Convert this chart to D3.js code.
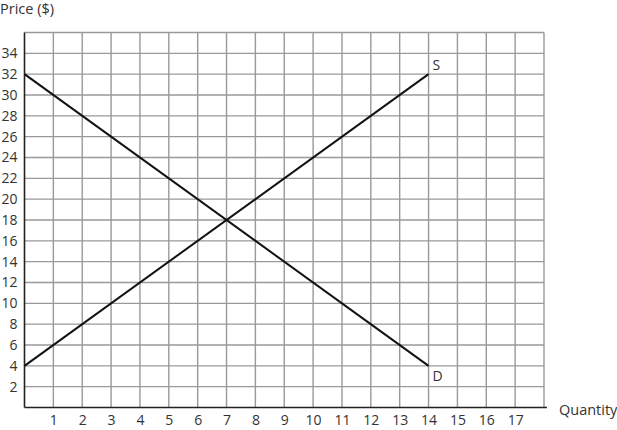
<!DOCTYPE html>
<html><head><meta charset="utf-8">
<script src="https://cdn.jsdelivr.net/npm/d3@7"></script>
<style>body{margin:0;background:#fff}svg{display:block}text{font-family:"Open Sans",Lato,sans-serif;fill:#333}</style>
</head><body><svg id="c" width="617" height="430"></svg>
<script>
const xTicks = [1,2,3,4,5,6,7,8,9,10,11,12,13,14,15,16,17];
const yTicks = [2,4,6,8,10,12,14,16,18,20,22,24,26,28,30,32,34];
const demandQ = [0, 14];
const demandP = [32, 4];
const supplyQ = [0, 14];
const supplyP = [4, 32];
const xLabel = "Quantity";
const yLabel = "Price ($)";

const svg = d3.select("#c");
const x = d3.scaleLinear().domain([0,18]).range([24.5,544]);
const y = d3.scaleLinear().domain([0,36]).range([407.5,32.5]);
const FF = '"Open Sans",Lato,sans-serif';

const g = svg.append("g");
g.selectAll(".vg").data(d3.range(1,19)).enter().append("line")
  .attr("x1",d=>x(d)).attr("x2",d=>x(d)).attr("y1",y(0)).attr("y2",y(36))
  .attr("stroke","#999").attr("stroke-width",1.4);
g.selectAll(".hg").data(d3.range(2,38,2)).enter().append("line")
  .attr("y1",d=>y(d)).attr("y2",d=>y(d)).attr("x1",x(0)).attr("x2",x(18))
  .attr("stroke","#999").attr("stroke-width",1.4);
const xa = d3.axisBottom(x).tickValues(xTicks).tickSize(0).tickPadding(8).tickFormat(d3.format("d"));
const ya = d3.axisLeft(y).tickValues(yTicks).tickSize(0).tickPadding(7).tickFormat(d3.format("d"));
const gx = svg.append("g").attr("transform",`translate(0,${y(0)})`).call(xa);
const gy = svg.append("g").attr("transform",`translate(${x(0)},0)`).call(ya);
[gx,gy].forEach(a=>{a.select(".domain").remove();a.selectAll("text").style("font-size","14px").attr("fill","#333").style("font-family",FF);});
svg.append("line").attr("x1",x(0)).attr("x2",x(18)+3).attr("y1",y(0)).attr("y2",y(0)).attr("stroke","#222").attr("stroke-width",1.6);
svg.append("line").attr("x1",x(0)).attr("x2",x(0)).attr("y1",y(0)).attr("y2",y(36)).attr("stroke","#222").attr("stroke-width",1.6);

const line = d3.line().x(d=>x(d[0])).y(d=>y(d[1]));
svg.append("path").attr("d",line(demandQ.map((q,i)=>[q,demandP[i]]))).attr("stroke","#111").attr("stroke-width",2).attr("fill","none");
svg.append("path").attr("d",line(supplyQ.map((q,i)=>[q,supplyP[i]]))).attr("stroke","#111").attr("stroke-width",2).attr("fill","none");
svg.append("text").attr("x",x(supplyQ[1])+4).attr("y",y(supplyP[1])-4).text("S").style("font-size","14px");
svg.append("text").attr("x",x(demandQ[1])+4).attr("y",y(demandP[1])+15).text("D").style("font-size","14px");
svg.append("text").attr("x",559).attr("y",415).text(xLabel).style("font-size","14.5px");
svg.append("text").attr("x",0).attr("y",14).text(yLabel).style("font-size","14.5px");
</script></body></html>
